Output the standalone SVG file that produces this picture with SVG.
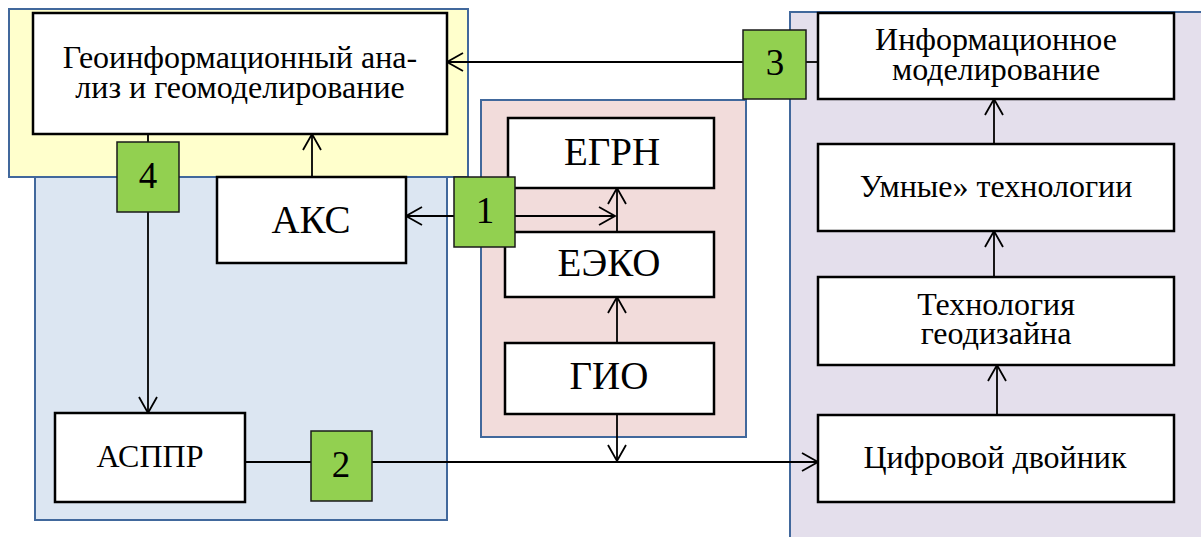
<svg xmlns="http://www.w3.org/2000/svg" width="1201" height="537" viewBox="0 0 1201 537">
  <defs>
    <style>
      .panel { stroke: #41689C; stroke-width: 2; }
      .box { fill: #FFFFFF; stroke: #000000; stroke-width: 2.5; }
      .num { fill: #92D050; stroke: #1A1A1A; stroke-width: 1.5; }
      .link { fill: none; stroke: #000000; stroke-width: 1.8; }
      .lbl { font-family: 'Liberation Serif', 'Times New Roman', serif; text-anchor: middle; fill: #000000; }
      .m { font-size: 32px; }
      .b { font-size: 39px; }
      .n { font-size: 37px; }
    </style>
    <marker id="arr" markerUnits="userSpaceOnUse" markerWidth="20" markerHeight="22" viewBox="0 0 20 22" refX="17" refY="11" orient="auto">
      <path d="M1,2 L17,11 L1,20" fill="none" stroke="#000000" stroke-width="1.8"/>
    </marker>
  </defs>

  <!-- background panels -->
  <g id="panels">
    <rect class="panel" x="35" y="177" width="412" height="343" fill="#DCE6F2"/>
    <rect class="panel" x="9" y="9" width="459" height="168" fill="#FFFFCC"/>
    <rect class="panel" x="481" y="100" width="265" height="337" fill="#F2DCDB"/>
    <rect class="panel" x="790" y="12" width="420" height="535" fill="#E4DFEC"/>
  </g>

  <!-- connectors -->
  <g id="connectors">
    <line class="link" x1="743" y1="62" x2="447" y2="62" marker-end="url(#arr)"/>
    <line class="link" x1="806" y1="62" x2="818" y2="62"/>
    <line class="link" x1="994" y1="144" x2="994" y2="99" marker-end="url(#arr)"/>
    <line class="link" x1="994" y1="277" x2="994" y2="231" marker-end="url(#arr)"/>
    <line class="link" x1="997" y1="415" x2="997" y2="365" marker-end="url(#arr)"/>
    <line class="link" x1="245" y1="462" x2="311" y2="462"/>
    <line class="link" x1="372" y1="462" x2="818" y2="462" marker-end="url(#arr)"/>
    <line class="link" x1="617" y1="414" x2="617" y2="461" marker-end="url(#arr)"/>
    <line class="link" x1="617" y1="343" x2="617" y2="297" marker-end="url(#arr)"/>
    <line class="link" x1="617" y1="232" x2="617" y2="188" marker-end="url(#arr)"/>
    <line class="link" x1="454" y1="216" x2="406" y2="216" marker-end="url(#arr)"/>
    <line class="link" x1="515" y1="216" x2="615" y2="216" marker-end="url(#arr)"/>
    <line class="link" x1="312" y1="177" x2="312" y2="134" marker-end="url(#arr)"/>
    <line class="link" x1="148" y1="134" x2="148" y2="142"/>
    <line class="link" x1="148" y1="212" x2="148" y2="413" marker-end="url(#arr)"/>
  </g>

  <g id="geo">
    <rect class="box" x="33" y="13" width="414" height="121"/>
    <text class="lbl m" x="240" y="68">Геоинформационный ана-</text>
    <text class="lbl m" x="240" y="98">лиз и геомоделирование</text>
  </g>

  <g id="aks">
    <rect class="box" x="217" y="177" width="189" height="86"/>
    <text class="lbl b" x="311" y="233">АКС</text>
  </g>

  <g id="asppr">
    <rect class="box" x="55" y="413" width="190" height="89"/>
    <text class="lbl m" x="150" y="467">АСППР</text>
  </g>

  <g id="egrn">
    <rect class="box" x="508" y="118" width="206" height="70"/>
    <text class="lbl b" x="612" y="165">ЕГРН</text>
  </g>

  <g id="eeko">
    <rect class="box" x="505" y="232" width="209" height="65"/>
    <text class="lbl b" x="609" y="276">ЕЭКО</text>
  </g>

  <g id="gio">
    <rect class="box" x="505" y="343" width="209" height="71"/>
    <text class="lbl b" x="609" y="389">ГИО</text>
  </g>

  <g id="info">
    <rect class="box" x="818" y="13" width="356" height="86"/>
    <text class="lbl m" x="996" y="50">Информационное</text>
    <text class="lbl m" x="996" y="80">моделирование</text>
  </g>

  <g id="smart">
    <rect class="box" x="818" y="144" width="356" height="87"/>
    <text class="lbl m" x="996" y="197">Умные» технологии</text>
  </g>

  <g id="geodesign">
    <rect class="box" x="818" y="277" width="356" height="88"/>
    <text class="lbl m" x="996" y="315">Технология</text>
    <text class="lbl m" x="996" y="344">геодизайна</text>
  </g>

  <g id="twin">
    <rect class="box" x="818" y="415" width="356" height="87"/>
    <text class="lbl m" x="995" y="468">Цифровой двойник</text>
  </g>

  <g id="n1">
    <rect class="num" x="454" y="177" width="61" height="70"/>
    <text class="lbl n" x="485" y="223">1</text>
  </g>
  <g id="n2">
    <rect class="num" x="311" y="431" width="61" height="70"/>
    <text class="lbl n" x="341" y="477">2</text>
  </g>
  <g id="n3">
    <rect class="num" x="743" y="30" width="63" height="69"/>
    <text class="lbl n" x="775" y="75">3</text>
  </g>
  <g id="n4">
    <rect class="num" x="117" y="142" width="62" height="70"/>
    <text class="lbl n" x="148" y="188">4</text>
  </g>
</svg>
